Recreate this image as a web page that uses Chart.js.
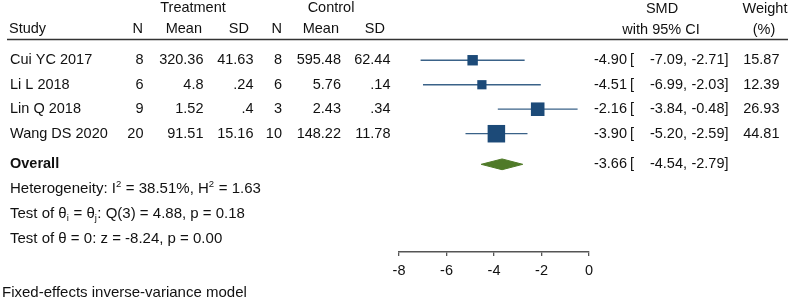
<!DOCTYPE html>
<html>
<head>
<meta charset="utf-8">
<script src="https://cdn.jsdelivr.net/npm/chart.js@4.4.1/dist/chart.umd.min.js"></script>
<style>
  body { margin: 0; background: #fff; }
  canvas { display: block; }
</style>
</head>
<body>
<canvas id="forest" width="796" height="300"></canvas>
<script>
// study table
const studies = ['Cui YC 2017', 'Li L 2018', 'Lin Q 2018', 'Wang DS 2020'];
const treatN = ['8', '6', '9', '20'];
const treatMean = ['320.36', '4.8', '1.52', '91.51'];
const treatSD = ['41.63', '.24', '.4', '15.16'];
const ctrlN = ['8', '6', '3', '10'];
const ctrlMean = ['595.48', '5.76', '2.43', '148.22'];
const ctrlSD = ['62.44', '.14', '.34', '11.78'];

// effect sizes
const smd = [-4.90, -4.51, -2.16, -3.90];
const ciLow = [-7.09, -6.99, -3.84, -5.20];
const ciHigh = [-2.71, -2.03, -0.48, -2.59];
const weights = [15.87, 12.39, 26.93, 44.81];

const overallSMD = -3.66;
const overallLow = -4.54;
const overallHigh = -2.79;

const xTicks = [-8, -6, -4, -2, 0];

const FONT = '"Liberation Sans", Arial, sans-serif';
const SQUARE = '#1c4a78';
const CI_LINE = '#3a6288';
const DIAMOND = '#4f7a28';
const OVERALL_ROW = studies.length + 0.25;
const fmt = v => v.toFixed(2);

// CI whiskers
const ciSets = studies.map((s, i) => ({
    type: 'line',
    data: [{ x: ciLow[i], y: i }, { x: ciHigh[i], y: i }],
    borderColor: CI_LINE,
    borderWidth: 1.3,
    pointRadius: 0,
    fill: false,
    clip: false,
    order: 2
}));

// weighted squares
const squareSet = {
    type: 'scatter',
    data: smd.map((v, i) => ({ x: v, y: i })),
    pointStyle: 'rect',
    pointRadius: weights.map(w => Math.sqrt(w) * 1.85),
    backgroundColor: SQUARE,
    borderColor: SQUARE,
    borderWidth: 0,
    clip: false,
    order: 1
};

// overall diamond
const diamondSet = {
    type: 'line',
    data: [
        { x: overallLow, y: OVERALL_ROW },
        { x: overallSMD, y: OVERALL_ROW - 0.22 },
        { x: overallHigh, y: OVERALL_ROW },
        { x: overallSMD, y: OVERALL_ROW + 0.22 },
        { x: overallLow, y: OVERALL_ROW }
    ],
    borderColor: DIAMOND,
    borderWidth: 1,
    backgroundColor: DIAMOND,
    fill: 'shape',
    tension: 0,
    pointRadius: 0,
    clip: false,
    order: 1
};

function txt(ctx, s, x, y, align, font) {
    ctx.font = font || '14.5px ' + FONT;
    ctx.textAlign = align || 'left';
    ctx.fillText(s, x, y);
}

// left-aligned text with small super/subscripts
function rich(ctx, parts, x, y) {
    ctx.textAlign = 'left';
    parts.forEach(p => {
        let dy = 0;
        if (p.mode === 'sup') { ctx.font = '9.5px ' + FONT; dy = -5; }
        else if (p.mode === 'sub') { ctx.font = '9.5px ' + FONT; dy = 4; }
        else ctx.font = '15px ' + FONT;
        ctx.fillText(p.t, x, y + dy);
        x += ctx.measureText(p.t).width + (p.mode ? 0.5 : 0);
    });
}

const tablePlugin = {
    id: 'forestTable',
    afterDraw(chart) {
        const ctx = chart.ctx;
        const yScale = chart.scales.y;
        ctx.save();
        ctx.fillStyle = '#111';
        ctx.textBaseline = 'middle';

        // headers
        txt(ctx, 'Treatment', 193, 8, 'center');
        txt(ctx, 'Control', 331, 8, 'center');
        txt(ctx, 'SMD', 662, 8.5, 'center');
        txt(ctx, 'Weight', 765, 8.5, 'center');
        txt(ctx, 'Study', 9, 28.5);
        txt(ctx, 'N', 143, 28.5, 'right');
        txt(ctx, 'Mean', 202, 28.5, 'right');
        txt(ctx, 'SD', 249, 28.5, 'right');
        txt(ctx, 'N', 282, 28.5, 'right');
        txt(ctx, 'Mean', 339, 28.5, 'right');
        txt(ctx, 'SD', 385, 28.5, 'right');
        txt(ctx, 'with 95% CI', 661, 29.5, 'center');
        txt(ctx, '(%)', 764, 29.5, 'center');

        ctx.strokeStyle = '#333';
        ctx.lineWidth = 1.5;
        ctx.beginPath();
        ctx.moveTo(7, 39.5);
        ctx.lineTo(788, 39.5);
        ctx.stroke();

        // study rows
        studies.forEach((s, i) => {
            const y = yScale.getPixelForValue(i);
            txt(ctx, s, 10, y);
            txt(ctx, treatN[i], 143.5, y, 'right');
            txt(ctx, treatMean[i], 203.5, y, 'right');
            txt(ctx, treatSD[i], 253.5, y, 'right');
            txt(ctx, ctrlN[i], 282, y, 'right');
            txt(ctx, ctrlMean[i], 341, y, 'right');
            txt(ctx, ctrlSD[i], 390.5, y, 'right');
            txt(ctx, fmt(smd[i]), 627, y, 'right');
            txt(ctx, '[', 630, y);
            txt(ctx, fmt(ciLow[i]) + ',', 687, y, 'right');
            txt(ctx, fmt(ciHigh[i]) + ']', 728.5, y, 'right');
            txt(ctx, fmt(weights[i]), 779.5, y, 'right');
        });

        // overall row
        const yo = yScale.getPixelForValue(OVERALL_ROW);
        txt(ctx, 'Overall', 10, yo, 'left', 'bold 14.5px ' + FONT);
        txt(ctx, fmt(overallSMD), 627, yo, 'right');
        txt(ctx, '[', 630, yo);
        txt(ctx, fmt(overallLow) + ',', 687, yo, 'right');
        txt(ctx, fmt(overallHigh) + ']', 728.5, yo, 'right');

        rich(ctx, [
            { t: 'Heterogeneity: I' }, { t: '2', mode: 'sup' },
            { t: ' = 38.51%, H' }, { t: '2', mode: 'sup' }, { t: ' = 1.63' }
        ], 10, 189);
        rich(ctx, [
            { t: 'Test of θ' }, { t: 'i', mode: 'sub' },
            { t: ' = θ' }, { t: 'j', mode: 'sub' },
            { t: ': Q(3) = 4.88, p = 0.18' }
        ], 10, 214);
        txt(ctx, 'Test of θ = 0: z = -8.24, p = 0.00', 10, 239, 'left', '15px ' + FONT);
        txt(ctx, 'Fixed-effects inverse-variance model', 2, 292.5, 'left', '15px ' + FONT);
        ctx.restore();
    }
};

new Chart(document.getElementById('forest'), {
    type: 'scatter',
    data: { datasets: [...ciSets, squareSet, diamondSet] },
    options: {
        responsive: false,
        animation: false,
        events: [],
        layout: { padding: { left: 399, right: 207, top: 48, bottom: 0 } },
        plugins: { legend: { display: false }, tooltip: { enabled: false } },
        scales: {
            x: {
                type: 'linear',
                min: xTicks[0],
                max: xTicks[xTicks.length - 1],
                afterBuildTicks: scale => { scale.ticks = xTicks.map(v => ({ value: v })); },
                afterFit: scale => { scale.height = 48; },
                grid: { drawOnChartArea: false, drawTicks: true, tickLength: 4, color: '#555', lineWidth: 1.3 },
                border: { display: true, color: '#555', width: 1.5 },
                ticks: { color: '#111', padding: 6, font: { family: FONT, size: 14.5 } }
            },
            y: {
                type: 'linear',
                display: false,
                reverse: true,
                min: -0.5,
                max: 7.83
            }
        }
    },
    plugins: [tablePlugin]
});
</script>
</body>
</html>
